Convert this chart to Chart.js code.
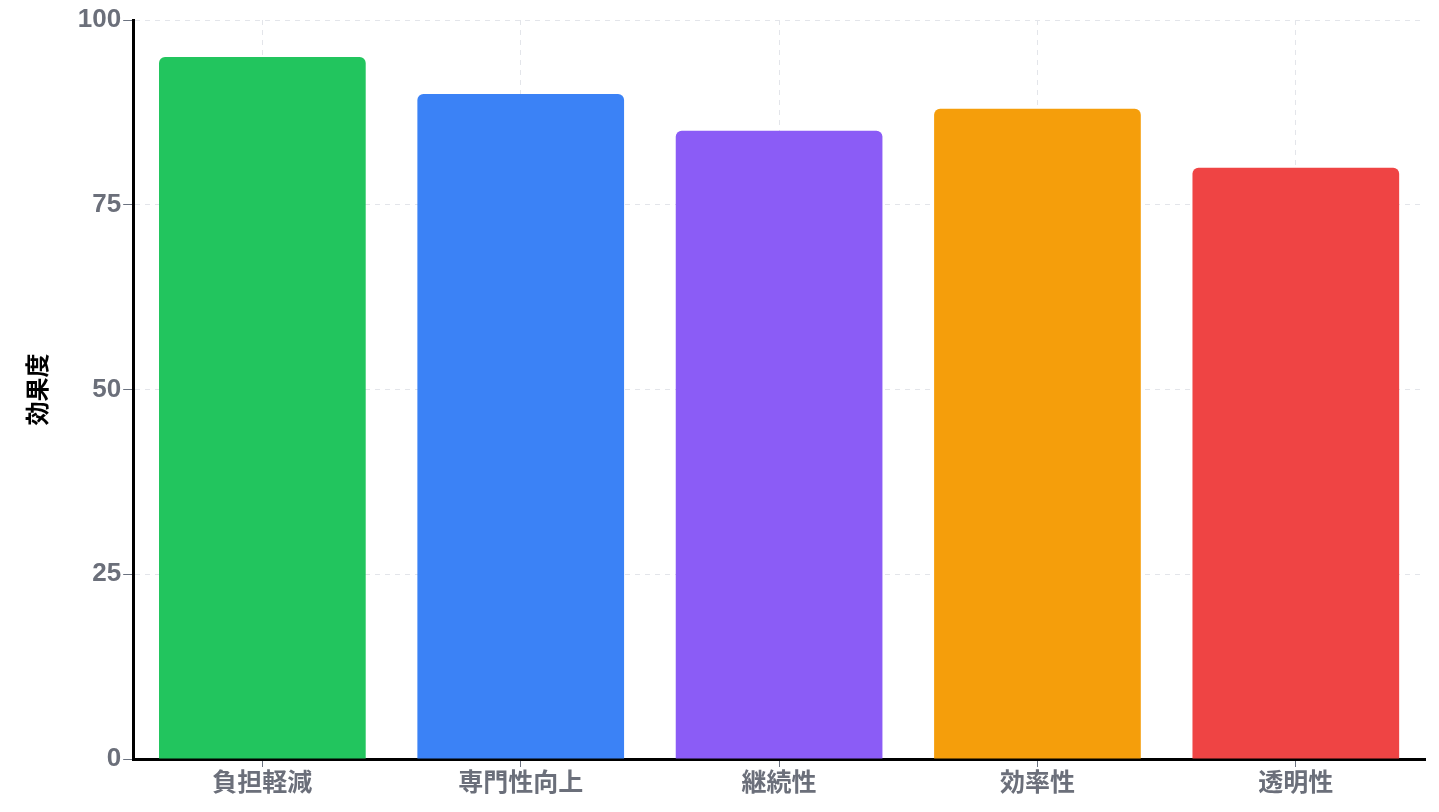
<!DOCTYPE html>
<html>
<head>
<meta charset="utf-8">
<script src="https://cdn.jsdelivr.net/npm/chart.js@4"></script>
<style>
  html, body { margin: 0; padding: 0; background: #fff; }
  #wrap { width: 1439px; height: 812px; }
</style>
</head>
<body>
<div id="wrap"><canvas id="effectChart"></canvas></div>
<script>
var categories = ['負担軽減', '専門性向上', '継続性', '効率性', '透明性'];
var effect = [95, 90, 85, 88, 80];
var barColors = ['#22c55e', '#3b82f6', '#8b5cf6', '#f59e0b', '#ef4444'];
var yTicks = [0, 25, 50, 75, 100];

var fontFamily = '"Liberation Sans", Arial, "Noto Sans CJK JP", sans-serif';

var ctx = document.getElementById('effectChart').getContext('2d');
var config = {
    type: 'bar',
    data: {
        labels: categories,
        datasets: [{
            label: '効果度',
            data: effect,
            backgroundColor: barColors,
            borderRadius: 6,
            barPercentage: 0.8,
            categoryPercentage: 1
        }]
    },
    options: {
        responsive: true,
        maintainAspectRatio: false,
        animation: false,
        layout: { padding: { top: 20, right: 14, left: 25, bottom: 11 } },
        plugins: {
            legend: { display: false },
            tooltip: { enabled: false }
        },
        scales: {
            x: {
                grid: {
                    offset: false,
                    color: '#e3e5ea',
                    tickColor: '#6b7280',
                    tickLength: 8
                },
                border: { display: true, color: '#000', width: 3, dash: [5, 5] },
                ticks: {
                    color: '#6b6f7a',
                    font: { family: fontFamily, size: 25, weight: 'bold' },
                    padding: 2
                }
            },
            y: {
                min: 0,
                max: 100,
                afterBuildTicks: function(scale) {
                    scale.ticks = yTicks.map(function(v) { return { value: v }; });
                },
                grid: {
                    color: '#e3e5ea',
                    tickColor: '#6b7280',
                    tickLength: 10
                },
                border: { display: true, color: '#000', width: 3, dash: [5, 5] },
                ticks: {
                    color: '#6b6f7a',
                    font: { family: fontFamily, size: 26, weight: 'bold' },
                    padding: 2
                },
                title: {
                    display: true,
                    text: '効果度',
                    color: '#000',
                    font: { family: fontFamily, size: 24, weight: 'bold' },
                    padding: { top: 0, bottom: 22 }
                }
            }
        }
    }
};

var chart = new Chart(ctx, config);
</script>
</body>
</html>
